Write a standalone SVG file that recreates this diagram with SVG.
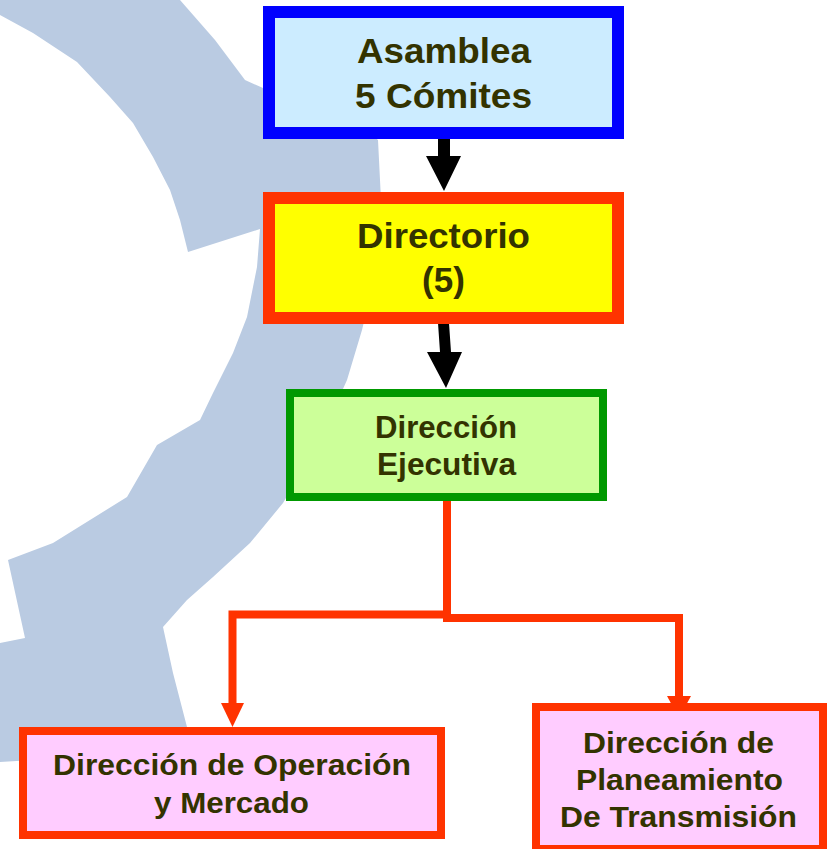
<svg xmlns="http://www.w3.org/2000/svg" width="827" height="849" viewBox="0 0 827 849">
<style>
.lbl{font-family:"Liberation Sans",Arial,sans-serif;font-weight:bold;fill:#333300;text-anchor:middle}
.big{font-size:35px}
.mid{font-size:31px}
.sm{font-size:29px}
.red{stroke:#FF3300}
.wire{fill:none;stroke:#FF3300;stroke-width:8;stroke-linejoin:miter}
.head{fill:#FF3300}
.blk{fill:#000000}
</style>
<rect x="0" y="0" width="827" height="849" fill="#FFFFFF"/>
<g id="background-gear">
<path fill="#BACBE2" d="M0,0 L180,0 L215,40 L245,80 L263,88 L330,100 L378,140 L381,200 L374,280 L362,330 L347,380 L320,440 L283,503 L250,543 L213,577 L187,600 L163,627 L173,673 L187,727 L188,745 L100,756 L0,762 L0,643 L25,638 L8,560 L53,543 L127,497 L157,445 L200,420 L213,393 L233,353 L247,317 L257,267 L260,229 L188,252 L180,220 L170,190 L153,157 L133,123 L110,97 L77,62 L33,33 L0,15 Z"/>
</g>
<g id="connectors">
<polygon class="blk" points="438,137 450,137 450,156 461,156 444,191 426,156 438,156"/>
<polygon class="blk" points="438,323 449,323 451,352 462,352 446,388 427,352 440,352"/>
<path class="wire" d="M447,501 V614.5 H232.5 V705"/>
<polygon class="head" points="221,703 244,703 232.5,727"/>
<path class="wire" d="M443,618 H679 V698"/>
<polygon class="head" points="667,696 691,696 679,718"/>
</g>
<g id="node-asamblea">
<rect x="269" y="12" width="349" height="121" fill="#CCECFF" stroke="#0000FF" stroke-width="12"/>
<text class="lbl big" x="444" y="63" textLength="174" lengthAdjust="spacingAndGlyphs">Asamblea</text>
<text class="lbl big" x="443.5" y="108" textLength="177" lengthAdjust="spacingAndGlyphs">5 Cómites</text>
</g>
<g id="node-directorio">
<rect x="269" y="198" width="349" height="120" fill="#FFFF00" stroke="#FF3300" stroke-width="12"/>
<text class="lbl big" x="443.5" y="248" textLength="173" lengthAdjust="spacingAndGlyphs">Directorio</text>
<text class="lbl big" x="443.5" y="292">(5)</text>
</g>
<g id="node-ejecutiva">
<rect x="290" y="393" width="313" height="104" fill="#CCFF99" stroke="#009900" stroke-width="8"/>
<text class="lbl mid" x="446" y="438" textLength="142" lengthAdjust="spacingAndGlyphs">Dirección</text>
<text class="lbl mid" x="446.5" y="475" textLength="139" lengthAdjust="spacingAndGlyphs">Ejecutiva</text>
</g>
<g id="node-operacion">
<rect x="23" y="731" width="418" height="104" fill="#FFCCFF" stroke="#FF3300" stroke-width="8"/>
<text class="lbl sm" x="232" y="775" textLength="358" lengthAdjust="spacingAndGlyphs">Dirección de Operación</text>
<text class="lbl sm" x="231.5" y="813" textLength="155" lengthAdjust="spacingAndGlyphs">y Mercado</text>
</g>
<g id="node-planeamiento">
<rect x="536" y="707" width="287" height="142" fill="#FFCCFF" stroke="#FF3300" stroke-width="8"/>
<text class="lbl sm" x="678.5" y="753" textLength="191" lengthAdjust="spacingAndGlyphs">Dirección de</text>
<text class="lbl sm" x="679.5" y="790" textLength="207" lengthAdjust="spacingAndGlyphs">Planeamiento</text>
<text class="lbl sm" x="678.5" y="827" textLength="237" lengthAdjust="spacingAndGlyphs">De Transmisión</text>
</g>
</svg>
